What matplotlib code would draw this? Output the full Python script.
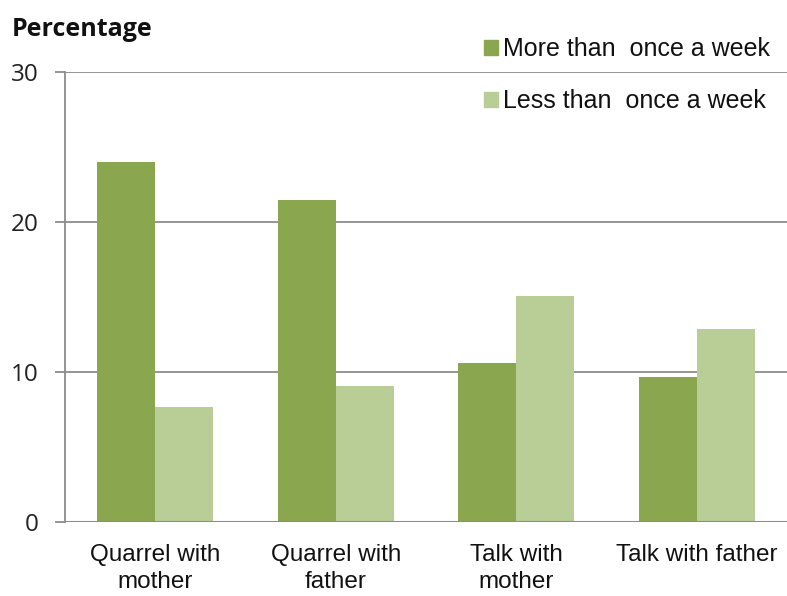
import matplotlib
matplotlib.use("Agg")
import matplotlib.pyplot as plt
import numpy as np
from matplotlib.patches import Patch

categories = ["Quarrel with\nmother", "Quarrel with\nfather", "Talk with\nmother", "Talk with father"]
more_than_once = [24.0, 21.5, 10.6, 9.7]
less_than_once = [7.7, 9.1, 15.1, 12.9]
series_names = ["More than  once a week", "Less than  once a week"]
yticks = [0, 10, 20, 30]

dark = "#8aa64e"
light = "#b9cd96"
grid_c = "#8c8c8c"

fig = plt.figure(figsize=(7.87, 5.96), dpi=100)
ax = fig.add_axes([65/787, 74/596, 1 - 65/787, 450/596])

x = np.arange(len(categories))
w = 0.32
ax.bar(x - w/2, more_than_once, width=w, color=dark, zorder=3)
ax.bar(x + w/2, less_than_once, width=w, color=light, zorder=3)

ax.set_xlim(-0.5, len(categories) - 0.5)
ax.set_ylim(0, 30)
ax.set_yticks(yticks)
ax.set_yticklabels([str(t) for t in yticks], fontfamily="Open Sans", fontsize=17.5, color="#222222")
ax.yaxis.grid(True, color=grid_c, linewidth=1.3, zorder=0)
ax.set_axisbelow(True)
for s in ["top", "right", "bottom"]:
    ax.spines[s].set_visible(False)
ax.spines["left"].set_color(grid_c)
ax.spines["left"].set_linewidth(1.3)
ax.tick_params(axis="y", length=7, width=1.3, color=grid_c, pad=12)
ax.axhline(0, color=grid_c, linewidth=1.5, zorder=4)

ax.set_xticks(x)
ax.set_xticklabels(categories, fontfamily="Liberation Sans", fontsize=17.5, color="#111111", linespacing=1.28)
ax.tick_params(axis="x", length=0, pad=16)

fig.text(12/787, 1 - 29/596, "Percentage", fontfamily="Open Sans", fontweight="bold",
         fontsize=18, color="#111111", va="center", ha="left")

handles = [Patch(color=dark), Patch(color=light)]
leg = fig.legend(handles, series_names, loc="upper left", bbox_to_anchor=(479/787, 1 - 32/596),
                 frameon=False, prop={"family": "Liberation Sans", "size": 18},
                 handlelength=0.55, handleheight=0.55, handletextpad=0.2, labelspacing=1.12,
                 borderaxespad=0, borderpad=0.2)
for t in leg.get_texts():
    t.set_color("#111111")

fig.savefig("out.png", dpi=100)
